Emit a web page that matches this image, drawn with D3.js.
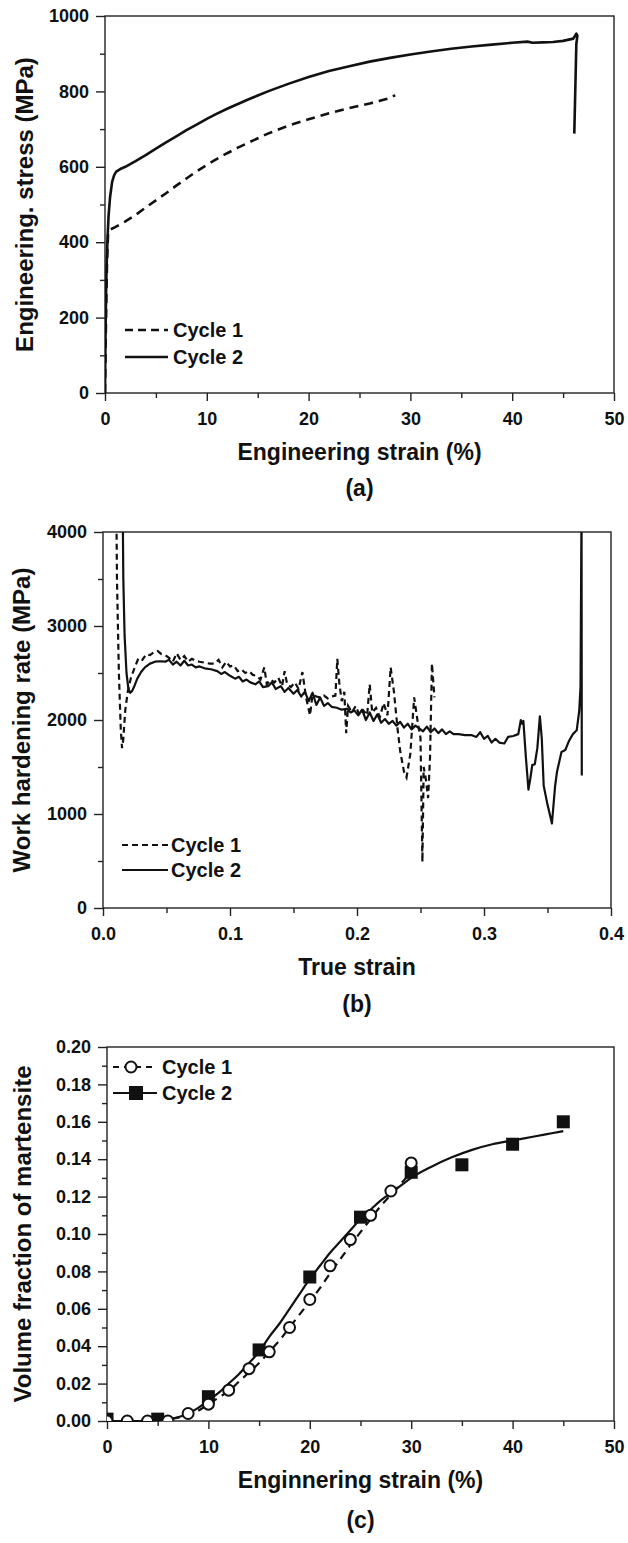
<!DOCTYPE html>
<html><head><meta charset="utf-8">
<script src="https://cdn.jsdelivr.net/npm/d3@7"></script>
<style>
html,body{margin:0;padding:0;background:#fff;}
svg text{font-family:"Liberation Sans",Arial,sans-serif;font-weight:bold;fill:#111;}
</style></head>
<body>
<svg id="chart" width="628" height="1543"></svg>
<script>
// ---------- Panel (a): engineering stress-strain ----------
const aCycle1 = [[0,0],[0.1,200],[0.2,350],[0.3,420],[0.4,432],[1,440],[2,455],[3,472],[4,492],[5,511],[6,530],[7,550],[8,569],[9,588],[10,605],[11,621],[12,636],[13,650],[14,663],[16,688],[18,709],[20,726],[22,742],[24,756],[26,768],[27,775],[28,782],[28.5,790]];
const aCycle2 = [[0,0],[0.05,150],[0.1,250],[0.15,330],[0.25,410],[0.35,470],[0.5,520],[0.7,560],[0.9,578],[1.1,587],[1.5,594],[2,600],[3,615],[4,631],[5,648],[6,665],[7,681],[8,697],[9,712],[10,727],[11,741],[12,754],[13,766],[14,778],[15,789],[16,800],[18,820],[20,838],[22,854],[24,867],[26,879],[28,889],[30,898],[32,906],[34,913],[36,919],[38,924],[40,929],[41.5,932],[42,929],[43,930],[44,931],[45,934],[46,940],[46.3,953],[46.4,948],[46.3,925],[46.1,688]];
const aXTicks = [0,10,20,30,40,50];
const aYTicks = [0,200,400,600,800,1000];

// ---------- Panel (b): work hardening rate ----------
const bCycle1 = [[0.0105,4300],[0.0110,3500],[0.0125,2500],[0.0140,1900],[0.0150,1700],[0.0160,1800],[0.0175,2100],[0.0195,2300],[0.0220,2450],[0.0250,2560],[0.0280,2660],[0.0310,2640],[0.0340,2700],[0.0370,2690],[0.0400,2720],[0.0430,2735],[0.0460,2700],[0.0490,2690],[0.0520,2660],[0.0550,2620],[0.0580,2710],[0.0610,2640],[0.0640,2680],[0.0670,2620],[0.0700,2650],[0.0730,2630],[0.0760,2620],[0.0800,2610],[0.0840,2600],[0.0880,2600],[0.0910,2640],[0.0940,2560],[0.0970,2620],[0.1000,2570],[0.1030,2580],[0.1060,2520],[0.1090,2540],[0.1120,2500],[0.1150,2520],[0.1180,2480],[0.1210,2470],[0.1240,2430],[0.1270,2560],[0.1290,2380],[0.1320,2430],[0.1350,2400],[0.1380,2450],[0.1410,2360],[0.1430,2520],[0.1450,2380],[0.1480,2350],[0.1510,2400],[0.1540,2330],[0.1570,2510],[0.1600,2230],[0.1630,2050],[0.1650,2270],[0.1680,2250],[0.1710,2240],[0.1740,2260],[0.1770,2230],[0.1800,2250],[0.1830,2260],[0.1845,2650],[0.1860,2400],[0.1880,2200],[0.1900,2300],[0.1915,1860],[0.1930,2150],[0.1960,2080],[0.1990,2150],[0.2020,2050],[0.2050,2100],[0.2080,2050],[0.2100,2380],[0.2120,2080],[0.2150,2130],[0.2180,2030],[0.2210,2180],[0.2240,2050],[0.2265,2560],[0.2290,2310],[0.2320,1900],[0.2340,1670],[0.2370,1450],[0.2390,1390],[0.2420,1640],[0.2450,2240],[0.2480,1960],[0.2500,1810],[0.2515,490],[0.2525,1500],[0.2540,1390],[0.2560,1170],[0.2575,1600],[0.2590,2600],[0.2610,2240]];
const bCycle2 = [[0.0155,4300],[0.0160,3500],[0.0170,2900],[0.0185,2500],[0.0200,2330],[0.0215,2290],[0.0230,2310],[0.0250,2370],[0.0270,2440],[0.0300,2510],[0.0330,2560],[0.0370,2600],[0.0410,2620],[0.0450,2625],[0.0490,2620],[0.0520,2640],[0.0550,2590],[0.0580,2620],[0.0610,2580],[0.0640,2630],[0.0670,2580],[0.0700,2590],[0.0730,2560],[0.0760,2570],[0.0800,2550],[0.0850,2540],[0.0900,2520],[0.0930,2490],[0.0960,2510],[0.1000,2470],[0.1040,2440],[0.1070,2460],[0.1100,2410],[0.1130,2430],[0.1160,2400],[0.1200,2380],[0.1230,2410],[0.1260,2350],[0.1300,2360],[0.1330,2400],[0.1360,2330],[0.1400,2360],[0.1430,2300],[0.1460,2340],[0.1500,2280],[0.1530,2320],[0.1560,2250],[0.1590,2300],[0.1620,2200],[0.1650,2290],[0.1680,2160],[0.1710,2240],[0.1740,2150],[0.1770,2180],[0.1800,2140],[0.1840,2130],[0.1880,2110],[0.1920,2120],[0.1950,2080],[0.1980,2100],[0.2010,2050],[0.2040,2110],[0.2070,2000],[0.2100,2080],[0.2130,1990],[0.2160,2060],[0.2190,1970],[0.2220,2010],[0.2250,1960],[0.2280,1990],[0.2310,1940],[0.2340,1980],[0.2370,1920],[0.2400,1960],[0.2430,1900],[0.2460,1940],[0.2490,1910],[0.2520,1880],[0.2550,1930],[0.2580,1870],[0.2610,1910],[0.2640,1860],[0.2670,1900],[0.2700,1850],[0.2730,1880],[0.2760,1850],[0.2800,1850],[0.2850,1840],[0.2900,1840],[0.2940,1820],[0.2970,1870],[0.3000,1800],[0.3030,1830],[0.3060,1760],[0.3090,1800],[0.3120,1760],[0.3160,1750],[0.3190,1820],[0.3230,1830],[0.3270,1850],[0.3290,2000],[0.3300,1960],[0.3310,1990],[0.3330,1600],[0.3350,1260],[0.3365,1380],[0.3380,1520],[0.3400,1530],[0.3420,1700],[0.3440,2040],[0.3455,1800],[0.3470,1300],[0.3500,1100],[0.3535,900],[0.3560,1300],[0.3575,1450],[0.3610,1660],[0.3640,1680],[0.3670,1780],[0.3700,1850],[0.3730,1890],[0.3750,2100],[0.3760,2350],[0.3768,4300],[0.3770,1410]];
const bXTicks = [0,0.1,0.2,0.3,0.4];
const bYTicks = [0,1000,2000,3000,4000];

// ---------- Panel (c): martensite fraction ----------
const cStrain1 = [0,2,4,6,8,10,12,14,16,18,20,22,24,26,28,30];
const cFrac1   = [0,0,0,0,0.004,0.009,0.0165,0.028,0.037,0.050,0.065,0.083,0.097,0.110,0.123,0.138];
const cStrain2 = [0,5,10,15,20,25,30,35,40,45];
const cFrac2   = [0.001,0.001,0.013,0.038,0.077,0.109,0.133,0.137,0.148,0.160];
const cFit1X = [5,6,7,8,9,10,11,12,13,14,15,16,17,18,19,20,21,22,23,24,25,26,27,28,29,30];
const cFit1Y = [0.0003,0.0008,0.0018,0.003,0.0055,0.009,0.0125,0.016,0.021,0.026,0.031,0.037,0.043,0.050,0.057,0.064,0.071,0.079,0.0865,0.094,0.101,0.108,0.115,0.121,0.127,0.133];
const cFit2X = [0,3,5,6,7,8,9,10,11,12,13,14,15,16,17,18,19,20,21,22,23,24,25,26,27,28,29,30,32,34,36,38,40,42,44,45];
const cFit2Y = [0,0,0.0005,0.001,0.002,0.004,0.007,0.011,0.015,0.020,0.025,0.031,0.037,0.045,0.052,0.060,0.068,0.076,0.083,0.090,0.096,0.102,0.108,0.113,0.118,0.122,0.126,0.130,0.136,0.141,0.145,0.148,0.150,0.152,0.154,0.155];
const cXTicks = [0,10,20,30,40,50];
const cYTicks = [0,0.02,0.04,0.06,0.08,0.10,0.12,0.14,0.16,0.18,0.20];

const svg = d3.select("#chart");
const INK = "#111";

function panel(cfg){
  const x = d3.scaleLinear().domain(cfg.xDom).range(cfg.xR);
  const y = d3.scaleLinear().domain(cfg.yDom).range(cfg.yR);
  const g = svg.append("g");
  const clipId = "clip" + cfg.id;
  svg.append("clipPath").attr("id", clipId).append("rect")
    .attr("x", cfg.xR[0]).attr("y", cfg.yR[1])
    .attr("width", cfg.xR[1]-cfg.xR[0]).attr("height", cfg.yR[0]-cfg.yR[1]);

  g.append("g").attr("transform", `translate(0,${cfg.yR[0]})`)
    .call(d3.axisBottom(x).tickValues(cfg.xMinor).tickSize(5).tickFormat(""))
    .call(s => s.select(".domain").remove());
  g.append("g").attr("transform", `translate(${cfg.xR[0]},0)`)
    .call(d3.axisLeft(y).tickValues(cfg.yMinor).tickSize(5).tickFormat(""))
    .call(s => s.select(".domain").remove());
  const xa = g.append("g").attr("transform", `translate(0,${cfg.yR[0]})`)
    .call(d3.axisBottom(x).tickValues(cfg.xTicks).tickSize(8).tickPadding(11).tickFormat(cfg.xFmt));
  const ya = g.append("g").attr("transform", `translate(${cfg.xR[0]},0)`)
    .call(d3.axisLeft(y).tickValues(cfg.yTicks).tickSize(9).tickPadding(7).tickFormat(cfg.yFmt));
  [xa, ya].forEach(a => { a.select(".domain").remove(); a.selectAll("text").style("font-size","18px").attr("fill", INK); });
  g.selectAll(".tick line").attr("stroke", "#222").attr("stroke-width", 1.4);

  g.append("rect").attr("x", cfg.xR[0]).attr("y", cfg.yR[1])
    .attr("width", cfg.xR[1]-cfg.xR[0]).attr("height", cfg.yR[0]-cfg.yR[1])
    .attr("fill","none").attr("stroke","#222").attr("stroke-width",1.4);

  g.append("text").attr("transform", `translate(${cfg.yTitleX},${(cfg.yR[0]+cfg.yR[1])/2}) rotate(-90)`)
    .attr("text-anchor","middle").attr("dy","0.36em").style("font-size","24px").text(cfg.yTitle);
  const cx = (cfg.xR[0]+cfg.xR[1])/2;
  g.append("text").attr("x", cx).attr("y", cfg.yR[0]+67).attr("text-anchor","middle")
    .style("font-size","23px").text(cfg.xTitle);
  g.append("text").attr("x", cx).attr("y", cfg.yR[0]+cfg.labelOff).attr("text-anchor","middle")
    .style("font-size","23px").text(cfg.label);
  return {x, y, g, clipId};
}

// Panel (a)
const A = panel({id:"a", xDom:[0,50], xR:[105,614], yDom:[0,1000], yR:[393,16],
  xTicks:aXTicks, yTicks:aYTicks, xMinor:[5,15,25,35,45], yMinor:[100,300,500,700,900],
  xFmt:d3.format("d"), yFmt:d3.format("d"), yTitleX:24,
  yTitle:"Engineering. stress (MPa)", xTitle:"Engineering strain (%)", label:"(a)", labelOff:103});
const lineA = d3.line().x(d=>A.x(d[0])).y(d=>A.y(d[1]));
A.g.append("path").datum(aCycle1).attr("d", lineA).attr("fill","none").attr("stroke",INK)
  .attr("stroke-width",2.6).attr("stroke-dasharray","9,6").attr("clip-path",`url(#${A.clipId})`);
A.g.append("path").datum(aCycle2).attr("d", lineA).attr("fill","none").attr("stroke",INK)
  .attr("stroke-width",2.6).attr("stroke-linejoin","round").attr("clip-path",`url(#${A.clipId})`);

// Panel (b)
const B = panel({id:"b", xDom:[0,0.4], xR:[103,611], yDom:[0,4000], yR:[908,532],
  xTicks:bXTicks, yTicks:bYTicks, xMinor:[0.05,0.15,0.25,0.35], yMinor:[500,1500,2500,3500],
  xFmt:d3.format(".1f"), yFmt:d3.format("d"), yTitleX:21,
  yTitle:"Work hardening rate (MPa)", xTitle:"True strain", label:"(b)", labelOff:104});
const lineB = d3.line().x(d=>B.x(d[0])).y(d=>B.y(d[1]));
B.g.append("path").datum(bCycle1).attr("d", lineB).attr("fill","none").attr("stroke",INK)
  .attr("stroke-width",2.2).attr("stroke-dasharray","6,4").attr("clip-path",`url(#${B.clipId})`);
B.g.append("path").datum(bCycle2).attr("d", lineB).attr("fill","none").attr("stroke",INK)
  .attr("stroke-width",2.2).attr("stroke-linejoin","round").attr("clip-path",`url(#${B.clipId})`);

// Panel (c)
const C = panel({id:"c", xDom:[0,50], xR:[107,614], yDom:[0,0.2], yR:[1421,1047],
  xTicks:cXTicks, yTicks:cYTicks, xMinor:[5,15,25,35,45], yMinor:d3.range(0.01,0.2,0.02),
  xFmt:d3.format("d"), yFmt:d3.format(".2f"), yTitleX:22,
  yTitle:"Volume fraction of martensite", xTitle:"Enginnering strain (%)", label:"(c)", labelOff:107});
const lineC = d3.line().x(d=>C.x(d[0])).y(d=>C.y(d[1])).curve(d3.curveMonotoneX);
C.g.append("path").datum(cFit2X.map((v,i)=>[v,cFit2Y[i]])).attr("d", lineC).attr("fill","none")
  .attr("stroke",INK).attr("stroke-width",2.2);
C.g.append("path").datum(cFit1X.map((v,i)=>[v,cFit1Y[i]])).attr("d", lineC).attr("fill","none")
  .attr("stroke",INK).attr("stroke-width",2.2).attr("stroke-dasharray","8,6");
const SQ = 13;
C.g.append("g").selectAll("rect").data(cStrain2.map((v,i)=>[v,cFrac2[i]])).join("rect")
  .attr("x", d=>C.x(d[0])-SQ/2).attr("y", d=>C.y(d[1])-SQ/2).attr("width",SQ).attr("height",SQ)
  .attr("fill",INK).attr("clip-path",`url(#${C.clipId})`);
C.g.append("g").selectAll("circle").data(cStrain1.map((v,i)=>[v,cFrac1[i]])).join("circle")
  .attr("cx", d=>C.x(d[0])).attr("cy", d=>C.y(d[1])).attr("r",5.5)
  .attr("fill","#fff").attr("stroke",INK).attr("stroke-width",2).attr("clip-path",`url(#${C.clipId})`);

// Legends
function legend(items){
  const lg = svg.append("g");
  items.forEach(it => {
    lg.append("line").attr("x1",it.x1).attr("x2",it.x2).attr("y1",it.y).attr("y2",it.y)
      .attr("stroke",INK).attr("stroke-width",it.w).attr("stroke-dasharray",it.dash||null);
    if (it.marker === "circle") lg.append("circle").attr("cx",it.mx).attr("cy",it.y).attr("r",5.5)
      .attr("fill","#fff").attr("stroke",INK).attr("stroke-width",2);
    if (it.marker === "square") lg.append("rect").attr("x",it.mx-7).attr("y",it.y-7).attr("width",14).attr("height",14).attr("fill",INK);
    lg.append("text").attr("x",it.tx).attr("y",it.y).attr("dy","0.36em").style("font-size","20px").text(it.text);
  });
}
legend([{x1:125,x2:168,y:330,w:2.6,dash:"8,5",tx:173,text:"Cycle 1"},
        {x1:125,x2:168,y:357,w:2.6,tx:173,text:"Cycle 2"}]);
legend([{x1:122,x2:168,y:845,w:2.2,dash:"6,4",tx:171,text:"Cycle 1"},
        {x1:122,x2:168,y:870,w:2.2,tx:171,text:"Cycle 2"}]);
legend([{x1:113,x2:157,y:1067,w:2.2,dash:"6,5",marker:"circle",mx:131,tx:162,text:"Cycle 1"},
        {x1:113,x2:157,y:1093,w:2.2,marker:"square",mx:136,tx:162,text:"Cycle 2"}]);
</script>
</body></html>
